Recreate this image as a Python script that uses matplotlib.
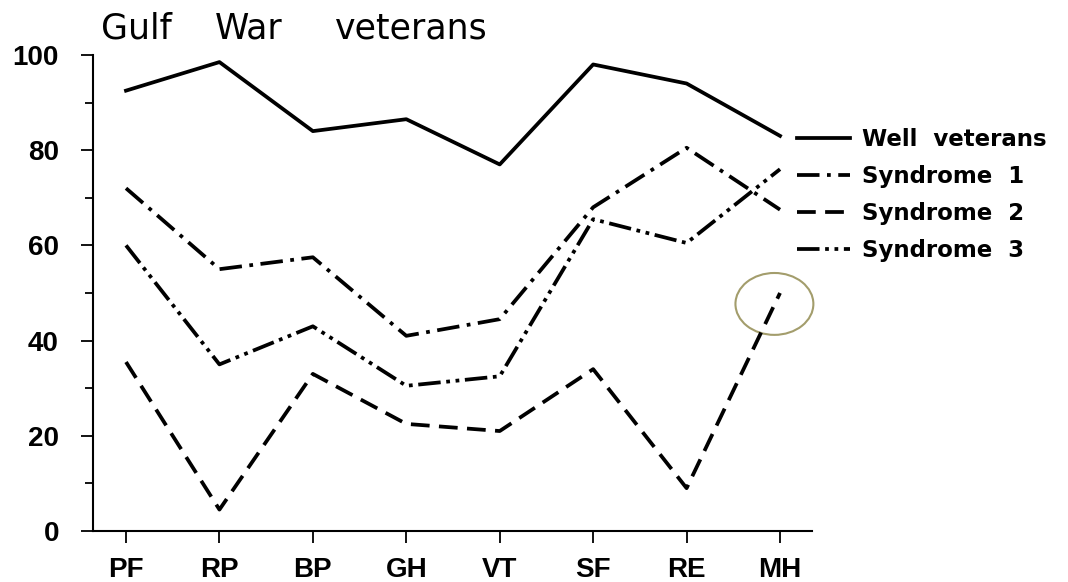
import matplotlib.pyplot as plt
from matplotlib.patches import Ellipse

# data
scales = ['PF', 'RP', 'BP', 'GH', 'VT', 'SF', 'RE', 'MH']
well = [92.5, 98.5, 84, 86.5, 77, 98, 94, 83]
syndrome1 = [72, 55, 57.5, 41, 44.5, 68, 80.5, 67.5]
syndrome2 = [35.5, 4.5, 33, 22.5, 21, 34, 9, 50]
syndrome3 = [60, 35, 43, 30.5, 32.5, 65.5, 60.5, 76]

plt.rcParams['font.family'] = ['Liberation Sans', 'DejaVu Sans']

fig = plt.figure(figsize=(10.68, 5.82), dpi=100)
ax = fig.add_axes([0.0871, 0.0876, 0.673, 0.818])

x = range(len(scales))
lw = 2.7
ax.plot(x, well, color='black', lw=lw, label='Well  veterans')
ax.plot(x, syndrome1, color='black', lw=lw, dashes=(6, 2, 1, 2), label='Syndrome  1')
ax.plot(x, syndrome2, color='black', lw=lw, dashes=(5, 2.5), label='Syndrome  2')
ax.plot(x, syndrome3, color='black', lw=lw, dashes=(6, 1.5, 1, 1.5, 1, 1.5), label='Syndrome  3')

ax.set_xlim(-0.353, 7.34)
ax.set_ylim(0, 100)
ax.set_xticks(list(x))
ax.set_xticklabels(scales)
ax.set_yticks([0, 20, 40, 60, 80, 100])
ax.set_yticks([10, 30, 50, 70, 90], minor=True)
for s in ['top', 'right']:
    ax.spines[s].set_visible(False)
for s in ['left', 'bottom']:
    ax.spines[s].set_linewidth(1.5)
ax.tick_params(axis='both', which='major', length=8.5, width=1.3, labelsize=20)
ax.tick_params(axis='y', which='minor', length=6, width=1.3)
ax.tick_params(axis='y', pad=16)
ax.tick_params(axis='x', pad=10)
for lab in ax.get_xticklabels() + ax.get_yticklabels():
    lab.set_fontweight('bold')

# title words spread out like the original lettering
for word, cx in [('Gulf', 0.1273), ('War', 0.2331), ('veterans', 0.3848)]:
    fig.text(cx, 0.933, word, fontsize=25, ha='center', va='baseline',
             family='DejaVu Sans')

leg = fig.legend(loc='upper left', bbox_to_anchor=(0.727, 0.815), frameon=False,
                 handlelength=2.3, handletextpad=0.55, labelspacing=0.6,
                 prop={'size': 16.5, 'weight': 'bold', 'family': 'DejaVu Sans'})

ell = Ellipse((6.94, 47.7), 0.834, 13.0, fill=False, edgecolor='#a39d6c',
              lw=1.5, clip_on=False)
ax.add_patch(ell)

fig.savefig('out.png', dpi=100)
